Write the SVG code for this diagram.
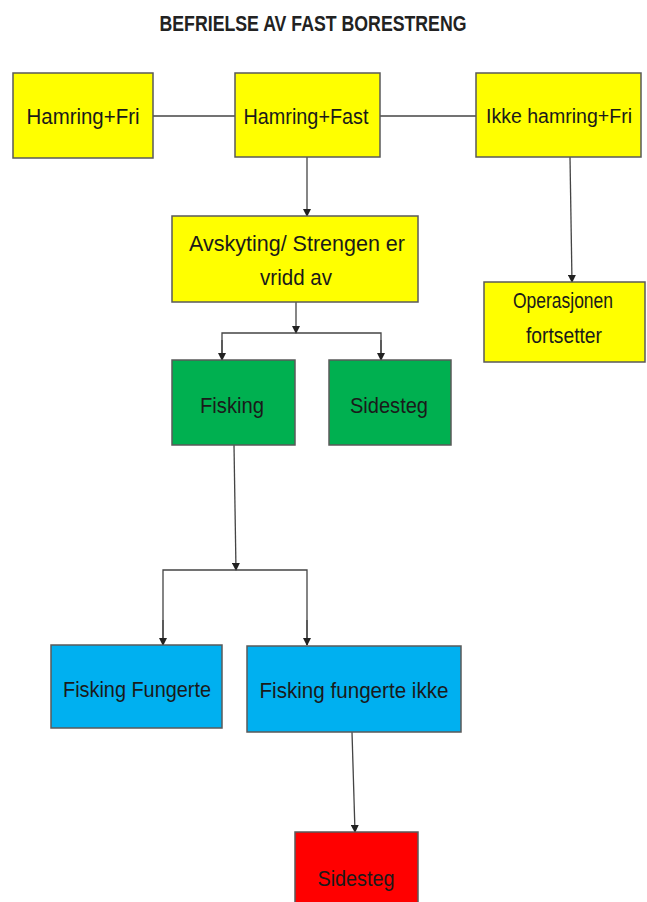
<svg xmlns="http://www.w3.org/2000/svg" width="647" height="902" viewBox="0 0 647 902">
<style>
.box{stroke:#5a5a5a;stroke-width:1.5}
.y{fill:#FFFF00}.g{fill:#00B050}.b{fill:#00B0F0}.r{fill:#FF0000}
text{font-family:"Liberation Sans",Arial,sans-serif;font-size:22px;fill:#1a1a1a;text-anchor:middle}
.t{font-weight:bold;font-size:22px;fill:#222}
.c{fill:none;stroke:#444;stroke-width:1.3}
</style>
<defs>
<marker id="ah" markerWidth="8" markerHeight="8" refX="7" refY="4" orient="auto" markerUnits="userSpaceOnUse">
<path d="M0,0 L8,4 L0,8 Z" fill="#222"/>
</marker>
</defs>
<rect width="647" height="902" fill="#fff"/>
<text class="t" x="313" y="31" textLength="307" lengthAdjust="spacingAndGlyphs">BEFRIELSE AV FAST BORESTRENG</text>
<g id="connectors">
<line class="c" x1="153" y1="116" x2="235" y2="116"/>
<line class="c" x1="380" y1="116" x2="476" y2="116"/>
<line class="c" x1="307" y1="157" x2="307" y2="216" marker-end="url(#ah)"/>
<line class="c" x1="570" y1="157" x2="572" y2="282" marker-end="url(#ah)"/>
<line class="c" x1="296" y1="302" x2="296" y2="333" marker-end="url(#ah)"/>
<polyline class="c" points="222,360 222,333 381,333 381,360"/>
<line class="c" x1="222" y1="340" x2="222" y2="360" marker-end="url(#ah)"/>
<line class="c" x1="381" y1="340" x2="381" y2="360" marker-end="url(#ah)"/>
<line class="c" x1="234" y1="445" x2="236" y2="570" marker-end="url(#ah)"/>
<polyline class="c" points="163,645 163,570 307,570 307,645"/>
<line class="c" x1="163" y1="620" x2="163" y2="645" marker-end="url(#ah)"/>
<line class="c" x1="307" y1="620" x2="307" y2="645" marker-end="url(#ah)"/>
<line class="c" x1="352" y1="732" x2="355" y2="832" marker-end="url(#ah)"/>
</g>
<g id="hamring-fri"><rect class="box y" x="13" y="73" width="140" height="85"/><text x="83" y="124" textLength="113" lengthAdjust="spacingAndGlyphs">Hamring+Fri</text></g>
<g id="hamring-fast"><rect class="box y" x="235" y="73" width="145" height="84"/><text x="306" y="124" textLength="125" lengthAdjust="spacingAndGlyphs">Hamring+Fast</text></g>
<g id="ikke-hamring-fri"><rect class="box y" x="476" y="73" width="165" height="84"/><text x="559" y="123" style="font-size:19.5px" textLength="146" lengthAdjust="spacingAndGlyphs">Ikke hamring+Fri</text></g>
<g id="avskyting"><rect class="box y" x="172" y="216" width="246" height="86"/><text x="297" y="251" textLength="216" lengthAdjust="spacingAndGlyphs">Avskyting/ Strengen er</text><text x="296" y="285" textLength="72" lengthAdjust="spacingAndGlyphs">vridd av</text></g>
<g id="operasjonen"><rect class="box y" x="484" y="282" width="161" height="80"/><text x="563" y="308" textLength="100" lengthAdjust="spacingAndGlyphs">Operasjonen</text><text x="564" y="343" textLength="76" lengthAdjust="spacingAndGlyphs">fortsetter</text></g>
<g id="fisking"><rect class="box g" x="172" y="360" width="123" height="85"/><text x="232" y="413" textLength="64" lengthAdjust="spacingAndGlyphs">Fisking</text></g>
<g id="sidesteg-green"><rect class="box g" x="329" y="360" width="122" height="85"/><text x="389" y="413" textLength="78" lengthAdjust="spacingAndGlyphs">Sidesteg</text></g>
<g id="fisking-fungerte"><rect class="box b" x="51" y="645" width="171" height="83"/><text x="137" y="697" textLength="148" lengthAdjust="spacingAndGlyphs">Fisking Fungerte</text></g>
<g id="fisking-fungerte-ikke"><rect class="box b" x="247" y="646" width="214" height="86"/><text x="354" y="698" textLength="189" lengthAdjust="spacingAndGlyphs">Fisking fungerte ikke</text></g>
<g id="sidesteg-red"><rect class="box r" x="295" y="832" width="123" height="75"/><text x="356" y="886" textLength="77" lengthAdjust="spacingAndGlyphs">Sidesteg</text></g>
</svg>
